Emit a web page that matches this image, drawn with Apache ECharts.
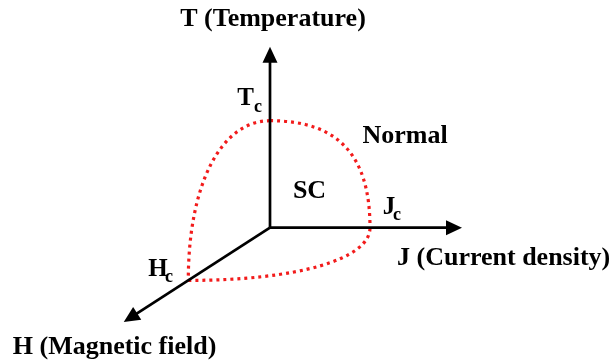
<!DOCTYPE html>
<html>
<head>
<meta charset="utf-8">
<script src="https://cdn.jsdelivr.net/npm/echarts@6/dist/echarts.min.js"></script>
<style>
  html, body { margin: 0; padding: 0; background: #fff; }
  #chart { width: 611px; height: 363px; }
</style>
</head>
<body>
<div id="chart"></div>
<script>
// Phase diagram of a superconductor in (T, J, H) space, reduced units.
const axisSymbols = ['T', 'J', 'H'];
const axisNames = ['T (Temperature)', 'J (Current density)', 'H (Magnetic field)'];
const axisLengths = [1.69, 1.92, 1.79];      // axis extent, in units of the critical value
const criticalValues = [1, 1, 1];             // Tc, Jc, Hc (reduced)
const boundaryPairs = [['T', 'J'], ['T', 'H'], ['H', 'J']];
const regionNames = ['SC', 'Normal'];

// Oblique projection of the H axis onto the page plane
const H_DIR = [-0.817, -0.4925];
function project(t, j, h) {
  return [j + h * H_DIR[0], t + h * H_DIR[1]];
}
function onAxis(sym, v) {
  if (sym === 'T') return project(v, 0, 0);
  if (sym === 'J') return project(0, v, 0);
  return project(0, 0, v);
}

const FONT = '"Liberation Serif", "Times New Roman", serif';
const RED = '#f21b1b';

const axisData = axisSymbols.map((s, i) => onAxis(s, axisLengths[i]));
const critData = axisSymbols.map((s, i) => onAxis(s, criticalValues[i]));
const critIndex = s => axisSymbols.indexOf(s);
const curveData = boundaryPairs.map(([a, b]) => {
  const p = critData[critIndex(a)], q = critData[critIndex(b)];
  return [p[0], p[1], q[0], q[1]];
});
const bulge = [0.68, 0.6, 0.6];

// text helper: place by baseline
function txt(str, x, baseline, size, align) {
  return {
    type: 'text',
    style: {
      text: str, x: x, y: baseline - 0.33 * size,
      font: 'bold ' + size + 'px ' + FONT,
      fill: '#000', align: align || 'left', verticalAlign: 'middle'
    }
  };
}

const chart = echarts.init(document.getElementById('chart'), null, { renderer: 'canvas' });
chart.setOption({
  animation: false,
  backgroundColor: '#fff',
  grid: { left: 0, right: 0, top: 0, bottom: 0 },
  xAxis: { type: 'value', min: -2.70, max: 3.41, show: false },
  yAxis: { type: 'value', min: -1.2645, max: 2.128, show: false },
  series: [
    {
      // dotted phase boundary
      type: 'custom',
      coordinateSystem: 'cartesian2d',
      clip: false,
      data: curveData,
      renderItem(params, api) {
        const p0 = api.coord([api.value(0), api.value(1)]);
        const p1 = api.coord([api.value(2), api.value(3)]);
        const c = [p1[0], p0[1]];
        const k = bulge[params.dataIndex];
        return {
          type: 'bezierCurve',
          shape: {
            x1: p0[0], y1: p0[1], x2: p1[0], y2: p1[1],
            cpx1: p0[0] + k * (c[0] - p0[0]), cpy1: p0[1] + k * (c[1] - p0[1]),
            cpx2: p1[0] + k * (c[0] - p1[0]), cpy2: p1[1] + k * (c[1] - p1[1])
          },
          style: { stroke: RED, lineWidth: 3.2, lineDash: [3, 4], fill: null }
        };
      }
    },
    {
      // axes with arrow heads
      type: 'custom',
      coordinateSystem: 'cartesian2d',
      clip: false,
      data: axisData,
      renderItem(params, api) {
        const o = api.coord([0, 0]);
        const p = api.coord([api.value(0), api.value(1)]);
        const dx = p[0] - o[0], dy = p[1] - o[1];
        const L = Math.hypot(dx, dy), ux = dx / L, uy = dy / L;
        const head = 16, half = 7.5;
        const bx = p[0] - ux * head, by = p[1] - uy * head;
        return {
          type: 'group',
          children: [
            { type: 'line', shape: { x1: o[0], y1: o[1], x2: bx + ux * 2, y2: by + uy * 2 },
              style: { stroke: '#000', lineWidth: 2.7 } },
            { type: 'polygon',
              shape: { points: [[p[0], p[1]], [bx - uy * half, by + ux * half], [bx + uy * half, by - ux * half]] },
              style: { fill: '#000' } }
          ]
        };
      }
    },
    {
      // axis titles
      type: 'custom',
      coordinateSystem: 'cartesian2d',
      clip: false,
      data: axisData,
      renderItem(params, api) {
        const p = api.coord([api.value(0), api.value(1)]);
        const i = params.dataIndex;
        const name = axisNames[i];
        if (i === 0) return txt(name, p[0] + 3, p[1] - 19.5, 26, 'center');
        if (i === 1) return txt(name, p[0] - 65, p[1] + 39.5, 26, 'left');
        return txt(name, p[0] - 111, p[1] + 33.5, 26, 'left');
      }
    },
    {
      // critical point labels with subscript c
      type: 'custom',
      coordinateSystem: 'cartesian2d',
      clip: false,
      data: critData,
      renderItem(params, api) {
        const p = api.coord([api.value(0), api.value(1)]);
        const i = params.dataIndex;
        const s = axisSymbols[i];
        let main, sub;
        if (s === 'T') { main = txt(s, p[0] - 16, p[1] - 13.4, 25, 'right'); sub = txt('c', p[0] - 16, p[1] - 7.4, 18, 'left'); }
        else if (s === 'J') { main = txt(s, p[0] + 12.7, p[1] - 12, 25, 'left'); sub = txt('c', p[0] + 23, p[1] - 6.7, 18, 'left'); }
        else { main = txt(s, p[0] - 40, p[1] - 2.7, 25, 'left'); sub = txt('c', p[0] - 23.3, p[1] + 3.3, 18, 'left'); }
        return { type: 'group', children: [main, sub] };
      }
    },
    {
      // region labels
      type: 'custom',
      coordinateSystem: 'cartesian2d',
      clip: false,
      data: [[0.395, 0.34], [1.35, 0.85]],
      renderItem(params, api) {
        const p = api.coord([api.value(0), api.value(1)]);
        return txt(regionNames[params.dataIndex], p[0], p[1] + 8.6, 26, 'center');
      }
    }
  ]
});
</script>
</body>
</html>
